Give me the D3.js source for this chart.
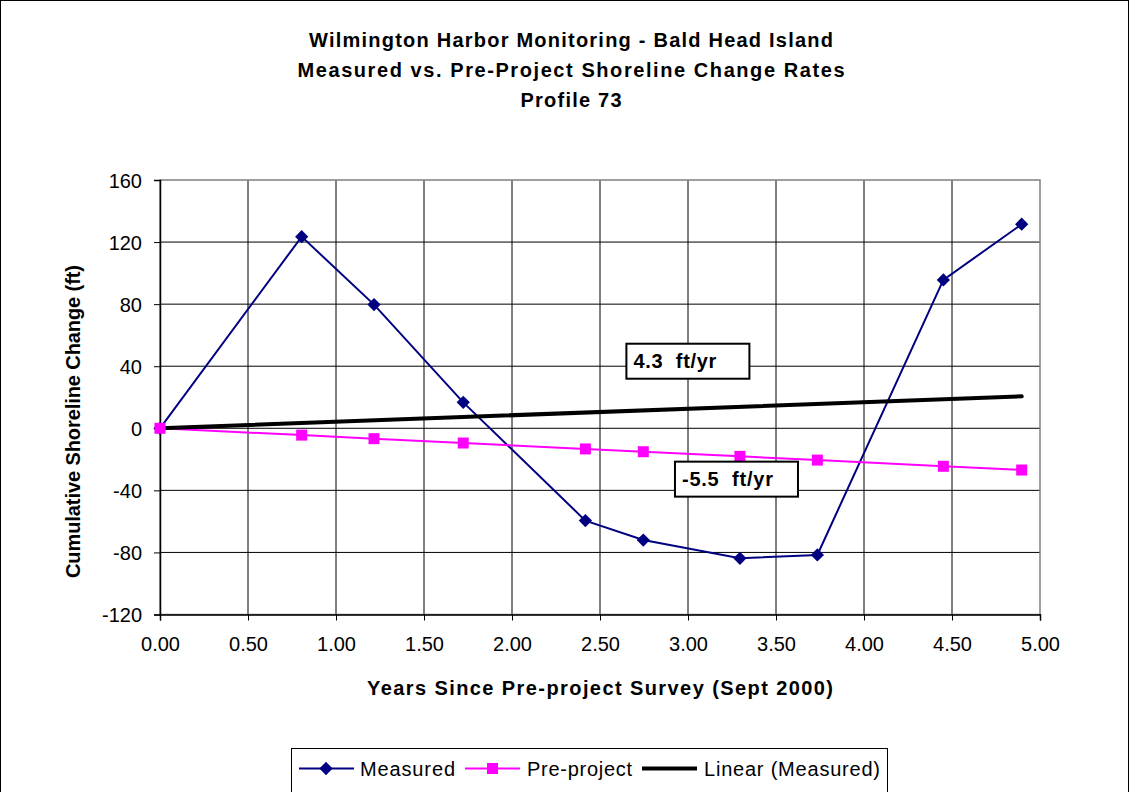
<!DOCTYPE html>
<html><head><meta charset="utf-8">
<script src="https://cdn.jsdelivr.net/npm/d3@7"></script>
<style>body{margin:0;background:#fff;} text{font-family:"Liberation Sans",Arial,sans-serif;}</style>
</head><body>
<svg id="c" width="1130" height="792"></svg>
<script>
const titleLines = ["Wilmington Harbor Monitoring - Bald Head Island","Measured vs. Pre-Project Shoreline Change Rates","Profile 73"];
const measuredX = [0, 0.805, 1.216, 1.723, 2.417, 2.746, 3.295, 3.735, 4.451, 4.896];
const measuredY = [0, 123.5, 79.7, 16.7, -59.5, -72, -83.8, -81.6, 95.6, 131.5];
const preprojectY = [0, -4.4, -6.7, -9.5, -13.3, -15.1, -18.1, -20.5, -24.5, -26.9];
const trendX = [0, 4.896];
const trendY = [0, 20.6];
const xTicks = [0, 0.5, 1, 1.5, 2, 2.5, 3, 3.5, 4, 4.5, 5];
const yTicks = [-120, -80, -40, 0, 40, 80, 120, 160];
const rateLabels = [{text:"4.3  ft/yr", x:2.65, y:54.5}, {text:"-5.5  ft/yr", x:2.926, y:-21.5}];
const legendItems = ["Measured","Pre-project","Linear (Measured)"];

const svg = d3.select("#c");
const L=160,R=1040,T=180,B=614.5;
const x = d3.scaleLinear().domain([0,5]).range([L,R]);
const y = d3.scaleLinear().domain([-120,160]).range([B,T]);

svg.append("rect").attr("x",0.5).attr("y",0.5).attr("width",1128).attr("height",800).attr("fill","#fff").attr("stroke","#000");

const titleW=[524,547,101];
svg.append("g").selectAll("text").data(titleLines).join("text")
  .attr("x",571).attr("y",(d,i)=>47+i*30).attr("text-anchor","middle")
  .attr("font-weight","bold").attr("font-size",20)
  .attr("textLength",(d,i)=>titleW[i]).attr("lengthAdjust","spacing").text(d=>d);

// gridlines
const g = svg.append("g");
g.selectAll(".vg").data(xTicks.slice(1,-1)).join("line")
  .attr("x1",d=>x(d)).attr("x2",d=>x(d)).attr("y1",T).attr("y2",B).attr("stroke","#000").attr("stroke-width",1);
g.selectAll(".hg").data(yTicks.slice(1,-1)).join("line")
  .attr("x1",L).attr("x2",R).attr("y1",d=>y(d)).attr("y2",d=>y(d)).attr("stroke","#000").attr("stroke-width",1);
svg.append("rect").attr("x",L).attr("y",T).attr("width",R-L).attr("height",B-T).attr("fill","none").attr("stroke","#808080").attr("stroke-width",1.5);

// axes
const fmtY = d => String(d).replace("\u2212","-");
const xAxis = svg.append("g").attr("transform",`translate(0,${B})`)
  .call(d3.axisBottom(x).tickValues(xTicks).tickFormat(d3.format(".2f")).tickSize(6).tickPadding(20));
const yAxis = svg.append("g").attr("transform",`translate(${L},0)`)
  .call(d3.axisLeft(y).tickValues(yTicks).tickFormat(fmtY).tickSize(6).tickPadding(12));
[xAxis,yAxis].forEach(a=>{
  a.selectAll("text").attr("font-size",20).attr("fill","#000").style("font-family","Liberation Sans, Arial, sans-serif");
  a.selectAll("line").attr("stroke","#000");
  a.select(".domain").attr("stroke","#000").attr("stroke-width",1.5);
});
xAxis.selectAll("text").attr("dy","0.5em");
yAxis.selectAll("text").attr("dy","0.36em");

svg.append("text").attr("x",600).attr("y",695).attr("text-anchor","middle")
  .attr("font-weight","bold").attr("font-size",20).attr("textLength",466).attr("lengthAdjust","spacing")
  .text("Years Since Pre-project Survey (Sept 2000)");
svg.append("text").attr("transform","translate(80,421.5) rotate(-90)").attr("text-anchor","middle")
  .attr("font-weight","bold").attr("font-size",20).attr("textLength",313).attr("lengthAdjust","spacing")
  .text("Cumulative Shoreline Change (ft)");

const plot = svg.append("g");
const preData = measuredX.map((d,i)=>[d,preprojectY[i]]);
const meaData = measuredX.map((d,i)=>[d,measuredY[i]]);
const trData = trendX.map((d,i)=>[d,trendY[i]]);
const line = d3.line().x(d=>x(d[0])).y(d=>y(d[1]));

plot.append("path").datum(meaData).attr("d",line).attr("fill","none").attr("stroke","#000080").attr("stroke-width",2);
plot.append("path").datum(preData).attr("d",line).attr("fill","none").attr("stroke","#FF00FF").attr("stroke-width",2);
plot.append("path").datum(trData).attr("d",line).attr("fill","none").attr("stroke","#000").attr("stroke-width",4).attr("stroke-linecap","round");

const diamondPath = d3.symbol().type(d3.symbolSquare).size(88)();
plot.selectAll(".dm").data(meaData).join("path")
  .attr("d",diamondPath)
  .attr("transform",d=>`translate(${x(d[0])},${y(d[1])}) rotate(45)`)
  .attr("fill","#000080");
plot.selectAll(".sq").data(preData).join("rect")
  .attr("x",d=>x(d[0])-5.5).attr("y",d=>y(d[1])-5.5).attr("width",11).attr("height",11).attr("fill","#FF00FF");

// rate labels
const rateW=[83,91];
const rl = svg.append("g").selectAll("g").data(rateLabels).join("g")
  .attr("transform",d=>`translate(${x(d.x)},${y(d.y)})`);
rl.append("rect").attr("x",0).attr("y",0).attr("width",123).attr("height",35)
  .attr("fill","#fff").attr("stroke","#000").attr("stroke-width",2);
rl.append("text").attr("x",7).attr("y",24).attr("font-weight","bold").attr("font-size",20)
  .attr("textLength",(d,i)=>rateW[i]).attr("lengthAdjust","spacing")
  .style("white-space","pre").text(d=>d.text);

// legend
const lg = svg.append("g");
lg.append("rect").attr("x",291.5).attr("y",748.5).attr("width",596).attr("height",50).attr("fill","#fff").attr("stroke","#000");
const lx=[299,465,642];
const lw=[55,55,55];
const legW=[95,105,176];
const legX=[360,527,704];
lg.selectAll(".ll").data(legendItems).join("line")
  .attr("x1",(d,i)=>lx[i]).attr("x2",(d,i)=>lx[i]+lw[i]).attr("y1",768.5).attr("y2",768.5)
  .attr("stroke",(d,i)=>["#000080","#FF00FF","#000"][i]).attr("stroke-width",(d,i)=>i==2?4:2);
lg.append("path").attr("d",diamondPath).attr("transform",`translate(${lx[0]+27},768.5) rotate(45)`).attr("fill","#000080");
lg.append("rect").attr("x",lx[1]+22).attr("y",763).attr("width",11).attr("height",11).attr("fill","#FF00FF");
lg.selectAll(".lt").data(legendItems).join("text")
  .attr("x",(d,i)=>legX[i]).attr("y",776).attr("font-size",20)
  .attr("textLength",(d,i)=>legW[i]).attr("lengthAdjust","spacing").text(d=>d);
</script>
</body></html>
